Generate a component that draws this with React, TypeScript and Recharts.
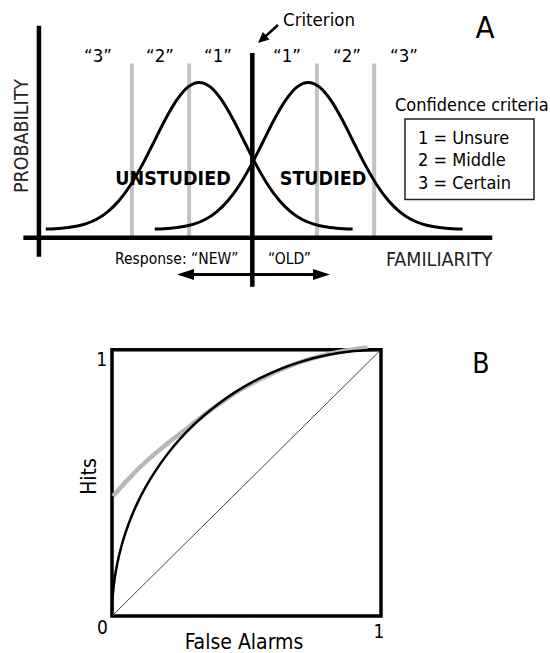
import React from 'react';
import { ComposedChart, Line, XAxis, YAxis, ReferenceLine, ReferenceArea } from 'recharts';

// ---------- Panel A data (familiarity units, probability units) ----------
const unstudiedFamiliarity = [0.15, 0.5, 0.75, 1.0, 1.25, 1.5, 1.75, 2.0, 2.25, 2.5, 2.75, 3.0, 3.25, 3.5, 3.75, 4.0, 4.25, 4.5, 4.75, 5.0, 5.25, 5.5, 5.75, 6.0, 6.25, 6.5, 6.85];
const unstudiedProbability = [0.056, 0.062, 0.071, 0.088, 0.118, 0.167, 0.24, 0.34, 0.466, 0.61, 0.756, 0.882, 0.969, 1.0, 0.969, 0.882, 0.756, 0.61, 0.466, 0.34, 0.24, 0.167, 0.118, 0.088, 0.071, 0.062, 0.056];
const studiedFamiliarity = [2.53, 2.88, 3.13, 3.38, 3.63, 3.88, 4.13, 4.38, 4.63, 4.88, 5.13, 5.38, 5.63, 5.88, 6.13, 6.38, 6.63, 6.88, 7.13, 7.38, 7.63, 7.88, 8.13, 8.38, 8.63, 8.88, 9.25];
const studiedProbability = [0.056, 0.062, 0.071, 0.088, 0.118, 0.167, 0.24, 0.34, 0.466, 0.61, 0.756, 0.882, 0.969, 1.0, 0.969, 0.882, 0.756, 0.61, 0.466, 0.34, 0.24, 0.167, 0.118, 0.088, 0.071, 0.062, 0.056];
const criterionFamiliarity = 4.66;
const confidenceCriteria = [2.03, 3.28, 6.07, 7.32];
const confidenceLabels = ['\u201C3\u201D', '\u201C2\u201D', '\u201C1\u201D', '\u201C1\u201D', '\u201C2\u201D', '\u201C3\u201D'];
const legendLines = ['1 = Unsure', '2 = Middle', '3 = Certain'];

// ---------- Panel B data (false alarms, hits) ----------
const rocFalseAlarms = [0, 0.001, 0.004, 0.01, 0.02, 0.035, 0.05, 0.075, 0.1, 0.14, 0.18, 0.23, 0.28, 0.34, 0.4, 0.47, 0.55, 0.63, 0.71, 0.8, 0.9, 1.0];
const rocHits = [0, 0.045, 0.089, 0.141, 0.199, 0.262, 0.312, 0.38, 0.436, 0.51, 0.572, 0.638, 0.694, 0.751, 0.8, 0.848, 0.893, 0.929, 0.957, 0.98, 0.995, 1.0];
const fitFalseAlarms = [0.004, 0.059, 0.134, 0.208, 0.283, 0.345, 0.4, 0.476, 0.55, 0.625, 0.7, 0.773, 0.85, 0.95];
const fitHits = [0.45, 0.512, 0.587, 0.649, 0.708, 0.757, 0.797, 0.848, 0.888, 0.924, 0.953, 0.975, 0.993, 1.008];
const chanceFalseAlarms = [0, 1];
const chanceHits = [0, 1];

const zip = (xs: number[], ys: number[]) => xs.map((x, i) => ({ x, y: ys[i] }));
const unstudied = zip(unstudiedFamiliarity, unstudiedProbability);
const studied = zip(studiedFamiliarity, studiedProbability);
const roc = zip(rocFalseAlarms, rocHits);
const fit = zip(fitFalseAlarms, fitHits);
const chance = zip(chanceFalseAlarms, chanceHits);

const FONT = "'DejaVu Sans Condensed', 'DejaVu Sans', sans-serif";

const arrowShape = (both: boolean, len: number, half: number, sw: number) => (props: any) => {
  const { x1, y1, x2, y2 } = props;
  const dx = x2 - x1;
  const dy = y2 - y1;
  const L = Math.hypot(dx, dy) || 1;
  const ux = dx / L;
  const uy = dy / L;
  const head = (tx: number, ty: number, ax: number, ay: number) => {
    const bx = tx - ax * len;
    const by = ty - ay * len;
    const px = -ay * half;
    const py = ax * half;
    return `${tx},${ty} ${bx + px},${by + py} ${bx - px},${by - py}`;
  };
  const sx = both ? x1 + ux * (len - 2) : x1;
  const sy = both ? y1 + uy * (len - 2) : y1;
  return (
    <g>
      <line x1={sx} y1={sy} x2={x2 - ux * (len - 2)} y2={y2 - uy * (len - 2)} stroke="#000" strokeWidth={sw} />
      <polygon points={head(x2, y2, ux, uy)} fill="#000" />
      {both && <polygon points={head(x1, y1, -ux, -uy)} fill="#000" />}
    </g>
  );
};

function PanelA() {
  return (
    <ComposedChart width={550} height={300} margin={{ top: 0, right: 0, bottom: 0, left: 0 }}>
      <XAxis type="number" dataKey="x" domain={[-0.85, 11.16]} hide />
      <YAxis type="number" dataKey="y" domain={[-0.4, 1.53]} hide />
      {confidenceCriteria.map((c, i) => (
        <ReferenceLine key={i} segment={[{ x: c, y: 0 }, { x: c, y: 1.121 }]} stroke="#c3c3c3" strokeWidth={4} ifOverflow="visible" />
      ))}
      <Line data={unstudied} dataKey="y" type="monotone" stroke="#000" strokeWidth={3} strokeLinecap="butt" dot={false} activeDot={false} isAnimationActive={false} />
      <Line data={studied} dataKey="y" type="monotone" stroke="#000" strokeWidth={3} strokeLinecap="butt" dot={false} activeDot={false} isAnimationActive={false} />
      <ReferenceLine segment={[{ x: -0.34, y: 0 }, { x: 9.9, y: 0 }]} stroke="#000" strokeWidth={4.5} ifOverflow="visible" />
      <ReferenceLine segment={[{ x: 0, y: -0.122 }, { x: 0, y: 1.365 }]} stroke="#000" strokeWidth={4.5} ifOverflow="visible" />
      <ReferenceLine segment={[{ x: criterionFamiliarity, y: -0.314 }, { x: criterionFamiliarity, y: 1.189 }]} stroke="#000" strokeWidth={4.5} ifOverflow="visible" />
      <ReferenceLine segment={[{ x: 3.015, y: -0.236 }, { x: 6.356, y: -0.236 }]} ifOverflow="visible" shape={arrowShape(true, 17, 5.5, 3)} />
      <ReferenceLine segment={[{ x: 5.22, y: 1.369 }, { x: 4.784, y: 1.253 }]} ifOverflow="visible" shape={arrowShape(false, 11, 5, 2.5)} />
    </ComposedChart>
  );
}

function PanelB() {
  return (
    <ComposedChart width={309} height={309} margin={{ top: 20.5, right: 20, bottom: 20, left: 20 }}>
      <XAxis type="number" dataKey="x" domain={[0, 1]} hide />
      <YAxis type="number" dataKey="y" domain={[0, 1]} hide />
      <Line data={chance} dataKey="y" type="linear" stroke="#444" strokeWidth={1} dot={false} activeDot={false} isAnimationActive={false} />
      <Line data={fit} dataKey="y" type="monotone" stroke="#b8b8b8" strokeWidth={4.5} dot={false} activeDot={false} isAnimationActive={false} />
      <Line data={roc} dataKey="y" type="monotone" stroke="#000" strokeWidth={2.5} dot={false} activeDot={false} isAnimationActive={false} />
      <ReferenceArea x1={0} x2={1} y1={0} y2={1} fill="none" fillOpacity={0} stroke="#000" strokeWidth={3.5} ifOverflow="visible" />
    </ComposedChart>
  );
}

const labelCenters = [98, 160, 218, 287, 347, 404];

function Overlay() {
  const t = { fontFamily: FONT, fill: '#000' } as const;
  return (
    <svg width={550} height={653} style={{ position: 'absolute', left: 0, top: 0, pointerEvents: 'none' }}>
      <text x={283} y={26} fontSize={18.5} {...t}>Criterion</text>
      {confidenceLabels.map((l, i) => (
        <text key={i} x={labelCenters[i]} y={62} fontSize={18.5} textAnchor="middle" {...t}>{l}</text>
      ))}
      <text x={485} y={37.5} fontSize={31} textAnchor="middle" {...t}>A</text>
      <text x={395} y={110.7} fontSize={18} {...t}>Confidence criteria</text>
      <rect x={405} y={119} width={129} height={80.5} fill="none" stroke="#222" strokeWidth={1.5} />
      {legendLines.map((l, i) => (
        <text key={i} x={418} y={143.5 + i * 22.5} fontSize={18} {...t}>{l}</text>
      ))}
      <text x={173} y={185} fontSize={19.5} fontWeight="bold" textAnchor="middle" {...t}>UNSTUDIED</text>
      <text x={323} y={185} fontSize={19.5} fontWeight="bold" textAnchor="middle" {...t}>STUDIED</text>
      <text x={115} y={264} fontSize={15.5} {...t}>Response: {'\u201CNEW\u201D'}</text>
      <text x={268} y={264} fontSize={15.5} {...t}>{'\u201COLD\u201D'}</text>
      <text x={386} y={266} fontSize={19.5} fill="#222" fontFamily={FONT}>FAMILIARITY</text>
      <text x={28} y={136} fontSize={19.5} textAnchor="middle" transform="rotate(-90, 28, 136)" fill="#222" fontFamily={FONT}>PROBABILITY</text>

      <text x={481} y={373} fontSize={28} textAnchor="middle" {...t}>B</text>
      <text x={96} y={476.5} fontSize={21} textAnchor="middle" transform="rotate(-90, 96, 476.5)" {...t}>Hits</text>
      <text x={244} y={648.5} fontSize={21} textAnchor="middle" {...t}>False Alarms</text>
      <text x={101.7} y={365.7} fontSize={19} textAnchor="middle" {...t}>1</text>
      <text x={102.5} y={634} fontSize={19} textAnchor="middle" {...t}>0</text>
      <text x={379} y={638} fontSize={19} textAnchor="middle" {...t}>1</text>
    </svg>
  );
}

export default function App() {
  return (
    <div style={{ position: 'absolute', left: 0, top: 0, width: 550, height: 653, background: '#fff', overflow: 'hidden' }}>
      <div style={{ position: 'absolute', left: 0, top: 0 }}>
        <PanelA />
      </div>
      <div style={{ position: 'absolute', left: 92, top: 327 }}>
        <PanelB />
      </div>
      <Overlay />
    </div>
  );
}
